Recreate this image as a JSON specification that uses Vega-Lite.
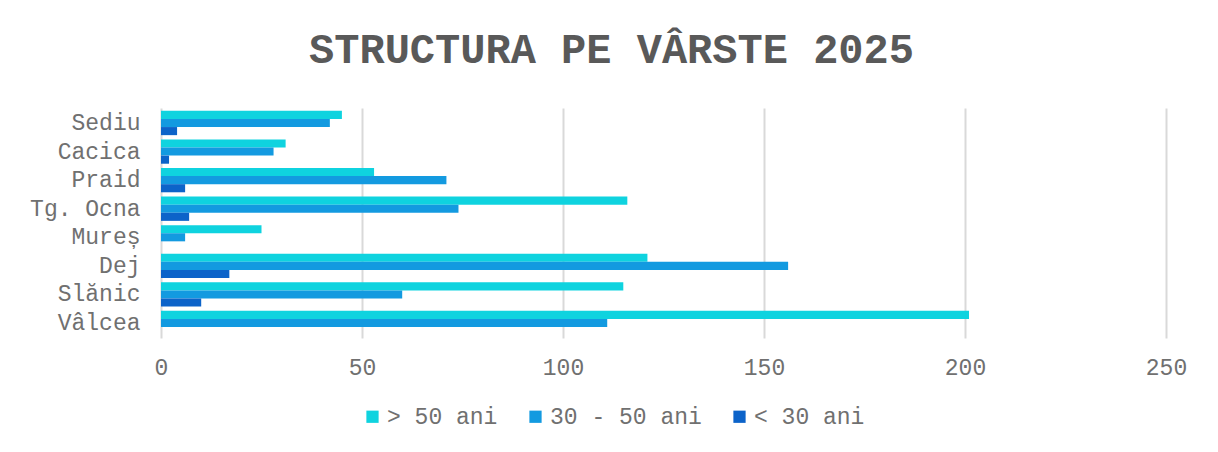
{
  "$schema": "https://vega.github.io/schema/vega-lite/v6.json",
  "width": 1005,
  "height": 230,
  "autosize": {"type": "none"},
  "padding": {"left": 161, "top": 108, "right": 52, "bottom": 114},
  "background": "white",
  "title": {
    "text": "STRUCTURA PE VÂRSTE 2025",
    "font": "Liberation Mono",
    "fontSize": 42,
    "fontWeight": "bold",
    "color": "#595959",
    "anchor": "middle",
    "frame": "group",
    "dx": -52,
    "offset": 36
  },
  "data": {
    "values": [
      {"site": "Sediu", "group": "> 50 ani", "value": 45},
      {"site": "Sediu", "group": "30 - 50 ani", "value": 42},
      {"site": "Sediu", "group": "< 30 ani", "value": 4},
      {"site": "Cacica", "group": "> 50 ani", "value": 31},
      {"site": "Cacica", "group": "30 - 50 ani", "value": 28},
      {"site": "Cacica", "group": "< 30 ani", "value": 2},
      {"site": "Praid", "group": "> 50 ani", "value": 53},
      {"site": "Praid", "group": "30 - 50 ani", "value": 71},
      {"site": "Praid", "group": "< 30 ani", "value": 6},
      {"site": "Tg. Ocna", "group": "> 50 ani", "value": 116},
      {"site": "Tg. Ocna", "group": "30 - 50 ani", "value": 74},
      {"site": "Tg. Ocna", "group": "< 30 ani", "value": 7},
      {"site": "Mureș", "group": "> 50 ani", "value": 25},
      {"site": "Mureș", "group": "30 - 50 ani", "value": 6},
      {"site": "Mureș", "group": "< 30 ani", "value": 0},
      {"site": "Dej", "group": "> 50 ani", "value": 121},
      {"site": "Dej", "group": "30 - 50 ani", "value": 156},
      {"site": "Dej", "group": "< 30 ani", "value": 17},
      {"site": "Slănic", "group": "> 50 ani", "value": 115},
      {"site": "Slănic", "group": "30 - 50 ani", "value": 60},
      {"site": "Slănic", "group": "< 30 ani", "value": 10},
      {"site": "Vâlcea", "group": "> 50 ani", "value": 201},
      {"site": "Vâlcea", "group": "30 - 50 ani", "value": 111},
      {"site": "Vâlcea", "group": "< 30 ani", "value": 0}
    ]
  },
  "mark": {"type": "bar"},
  "encoding": {
    "y": {
      "field": "site",
      "type": "nominal",
      "sort": ["Sediu", "Cacica", "Praid", "Tg. Ocna", "Mureș", "Dej", "Slănic", "Vâlcea"],
      "scale": {"paddingInner": 0.15, "paddingOuter": 0.1},
      "axis": {
        "title": null,
        "ticks": false,
        "domain": false,
        "labelPadding": 21,
        "labelFont": "Liberation Mono",
        "labelFontSize": 23,
        "labelColor": "#707070"
      }
    },
    "yOffset": {
      "field": "group",
      "type": "nominal",
      "sort": ["> 50 ani", "30 - 50 ani", "< 30 ani"],
      "scale": {"paddingInner": 0, "paddingOuter": 0}
    },
    "x": {
      "field": "value",
      "type": "quantitative",
      "scale": {"domain": [0, 250], "nice": false},
      "axis": {
        "title": null,
        "values": [0, 50, 100, 150, 200, 250],
        "grid": true,
        "gridColor": "#d9d9d9",
        "gridWidth": 2,
        "domain": false,
        "ticks": false,
        "labelPadding": 18,
        "labelFont": "Liberation Mono",
        "labelFontSize": 23,
        "labelColor": "#707070",
        "labelFlush": false
      }
    },
    "color": {
      "field": "group",
      "type": "nominal",
      "sort": ["> 50 ani", "30 - 50 ani", "< 30 ani"],
      "scale": {
        "domain": ["> 50 ani", "30 - 50 ani", "< 30 ani"],
        "range": ["#0fd3df", "#139ae0", "#0c63c9"]
      },
      "legend": {
        "title": null,
        "orient": "none",
        "direction": "horizontal",
        "legendX": 200,
        "legendY": 297,
        "symbolType": "square",
        "symbolSize": 150,
        "symbolStrokeWidth": 0,
        "symbolOpacity": 1,
        "labelOffset": 3,
        "columnPadding": 26,
        "labelFont": "Liberation Mono",
        "labelFontSize": 23,
        "labelColor": "#707070",
        "labelLimit": 300
      }
    }
  },
  "config": {
    "view": {"stroke": null},
    "axis": {"gridCap": "butt"}
  }
}
